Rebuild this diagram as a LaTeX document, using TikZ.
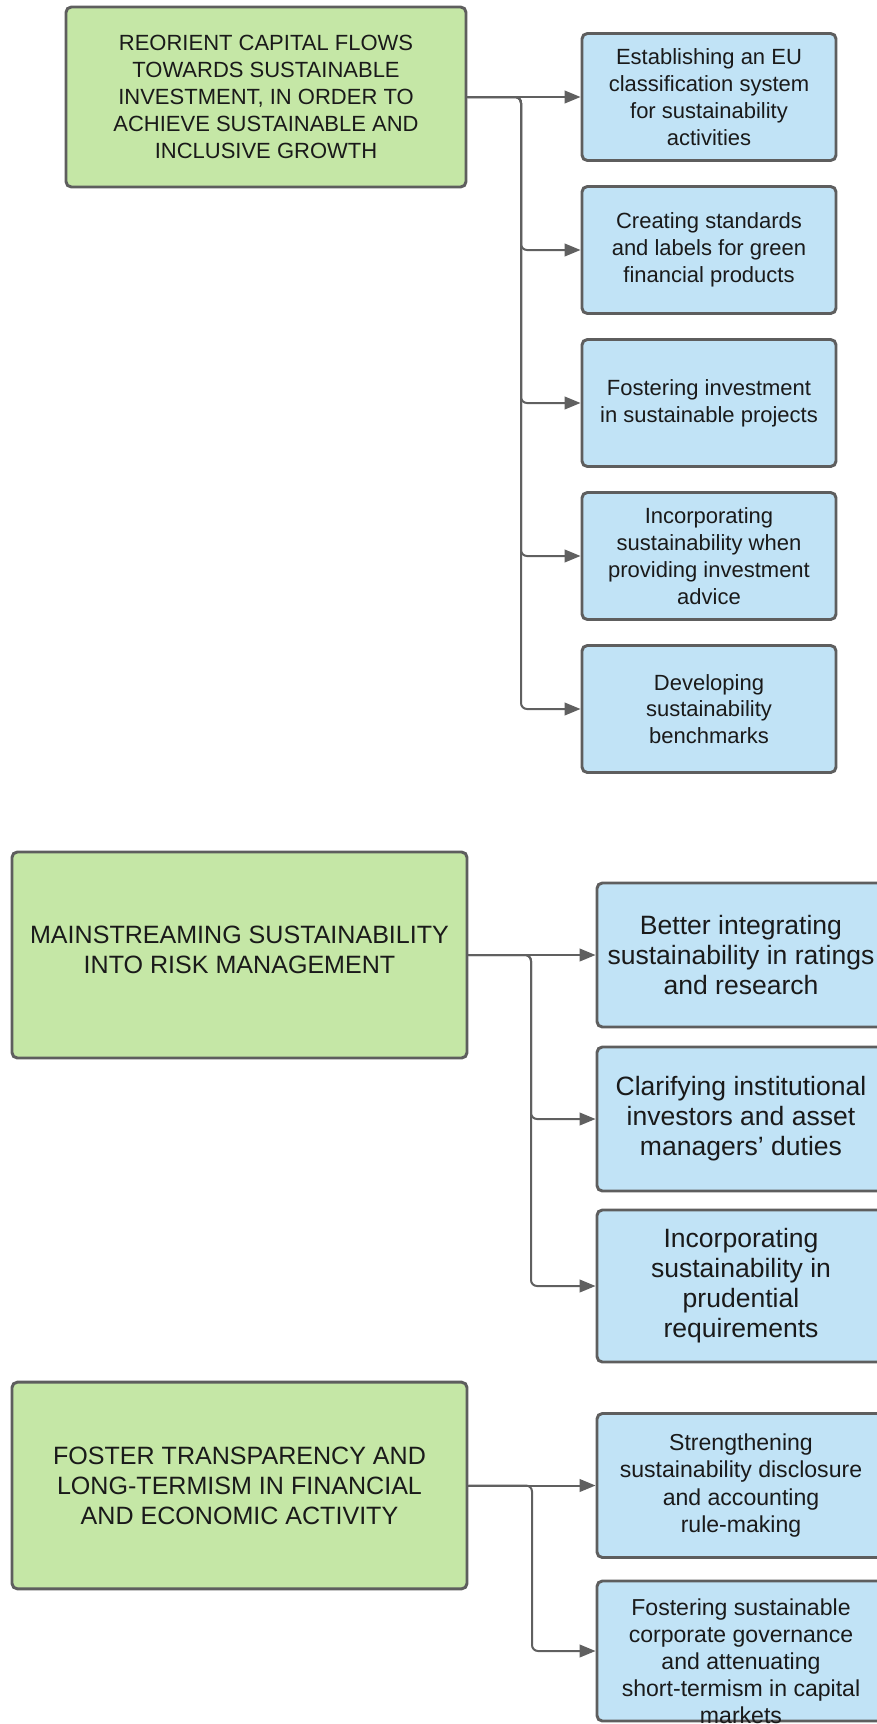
\documentclass[tikz,border=0pt]{standalone}
\usepackage{fontspec}
\setmainfont{Liberation Sans}
\usetikzlibrary{arrows.meta}
\definecolor{greenc}{HTML}{C5E7A6}
\definecolor{bluec}{HTML}{C1E3F6}
\definecolor{bordc}{HTML}{5E5E5E}
\definecolor{linec}{HTML}{606060}
\definecolor{txtc}{HTML}{1A1A1A}
\tikzset{
  boxbase/.style={draw=bordc, line width=2.2pt, rounded corners=4pt, align=center, inner sep=0pt, text=txtc},
  gbox/.style={boxbase, fill=greenc},
  bbox/.style={boxbase, fill=bluec},
  txt/.style={align=center, inner sep=0pt, text=txtc},
  fA/.style={font=\fontsize{16.5}{20.1}\selectfont},
  fB/.style={font=\fontsize{18.8}{22.6}\selectfont},
  fC/.style={font=\fontsize{19.9}{22.5}\selectfont},
  fD/.style={font=\fontsize{17.3}{20.3}\selectfont},
  conn/.style={draw=linec, line width=1.5pt, rounded corners=4.5pt, -{Triangle[length=12pt,width=9.5pt]}},
}
\begin{document}
\begin{tikzpicture}[x=0.75pt,y=-0.75pt]
\path[use as bounding box, fill=white] (0,0) rectangle (877,1724);
\clip (0,0) rectangle (877,1724);

% group 1
\node[gbox, fA, minimum width=300pt, minimum height=135pt] (g1) at (266,97)
  {REORIENT CAPITAL FLOWS\\TOWARDS SUSTAINABLE\\INVESTMENT, IN ORDER TO\\ACHIEVE SUSTAINABLE AND\\INCLUSIVE GROWTH};
\node[bbox, fA, minimum width=190.5pt, minimum height=95.25pt] (b11) at (709,97)
  {Establishing an EU\\classification system\\for sustainability\\activities};
\node[bbox, fA, minimum width=190.5pt, minimum height=95.25pt] (b12) at (709,250)
  {Creating standards\\and labels for green\\financial products};
\node[bbox, fA, minimum width=190.5pt, minimum height=95.25pt] (b13) at (709,403)
  {Fostering investment\\in sustainable projects};
\node[bbox, fA, minimum width=190.5pt, minimum height=95.25pt] (b14) at (709,556)
  {Incorporating\\sustainability when\\providing investment\\advice};
\node[bbox, fA, minimum width=190.5pt, minimum height=95.25pt] (b15) at (709,709)
  {Developing\\sustainability\\benchmarks};
\coordinate (j1) at (521,97);
\draw[conn] (g1.east) -- (b11.west);
\draw[conn] (g1.east) -- (j1) |- (b12.west);
\draw[conn] (g1.east) -- (j1) |- (b13.west);
\draw[conn] (g1.east) -- (j1) |- (b14.west);
\draw[conn] (g1.east) -- (j1) |- (b15.west);

% group 2
\node[gbox, minimum width=341.25pt, minimum height=154.5pt] (g2) at (239.5,955) {};
\node[txt, fB] (t2) at (239.5,950)
  {MAINSTREAMING SUSTAINABILITY\\INTO RISK MANAGEMENT};
\node[bbox, fC, minimum width=216pt, minimum height=108pt] (b21) at (741,955)
  {Better integrating\\sustainability in ratings\\and research};
\node[bbox, fC, minimum width=216pt, minimum height=108pt] (b22) at (741,1119)
  {Clarifying institutional\\investors and asset\\managers’ duties};
\node[bbox, fC, minimum width=216pt, minimum height=114pt] (b23) at (741,1286)
  {Incorporating\\sustainability in\\prudential\\requirements};
\coordinate (j2) at (531,955);
\draw[conn] (g2.east) -- (b21.west);
\draw[conn] (g2.east) -- (j2) |- (b22.west);
\draw[conn] (g2.east) -- (j2) |- (b23.west);

% group 3
\node[gbox, fB, minimum width=341.25pt, minimum height=155pt] (g3) at (239.5,1485.5)
  {FOSTER TRANSPARENCY AND\\LONG-TERMISM IN FINANCIAL\\AND ECONOMIC ACTIVITY};
\node[bbox, fD, minimum width=216pt, minimum height=108pt] (b31) at (741,1485.5)
  {Strengthening\\sustainability disclosure\\and accounting\\rule-making};
\node[bbox, minimum width=216pt, minimum height=105pt] (b32) at (741,1651) {};
\node[txt, fD] (t32) at (741,1661)
  {Fostering sustainable\\corporate governance\\and attenuating\\short-termism in capital\\markets};
\coordinate (j3) at (532,1485.5);
\draw[conn] (g3.east) -- (b31.west);
\draw[conn] (g3.east) -- (j3) |- (b32.west);
\end{tikzpicture}
\end{document}
